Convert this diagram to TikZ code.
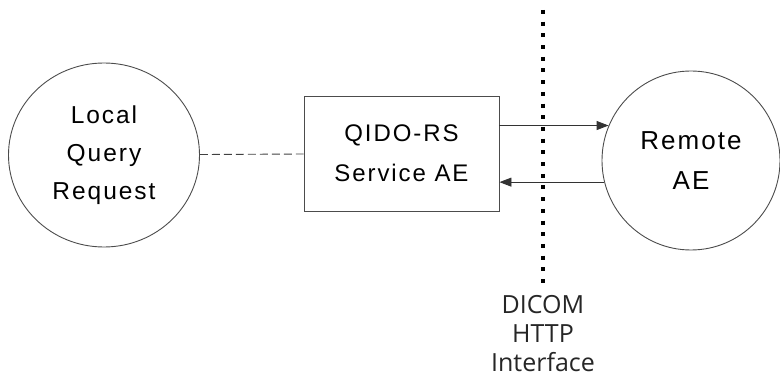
\documentclass[tikz,border=0pt]{standalone}
\usepackage{fontspec}
\newfontfamily\labelfont{Liberation Sans}[LetterSpace=8]
\newfontfamily\ifacefont{Open Sans}
\usetikzlibrary{arrows.meta,shapes.geometric}
\begin{document}
\begin{tikzpicture}[x=1pt,y=-1pt,
  ae/.style={draw=black!70, line width=0.9pt, ellipse, inner sep=0pt, align=center,
    font=\labelfont\fontsize{24.5}{38}\selectfont},
  svc/.style={draw=black!70, line width=0.9pt, rectangle, inner sep=0pt, align=center,
    minimum width=195pt, minimum height=115pt, font=\labelfont\fontsize{24}{40}\selectfont},
  link/.style={draw=black!75, line width=0.9pt, dash pattern=on 8pt off 4pt},
  msg/.style={draw=black!80, line width=0.9pt, -{Triangle[length=12pt,width=9pt]}},
  boundary/.style={draw=black, line width=4pt, dash pattern=on 4pt off 7.7pt},
  iface/.style={align=center, inner sep=0pt, text=black!85,
    font=\ifacefont\fontsize{25}{29}\selectfont}
]
\useasboundingbox (0,0) rectangle (780,377);
\node[ae, minimum width=191pt, minimum height=184pt] (local) at (104,155) {Local\\Query\\Request};
\node[svc] (box) at (401.5,153.5) {QIDO-RS\\Service AE};
\node[ae, minimum width=178pt, minimum height=179pt, font=\labelfont\fontsize{26}{40}\selectfont] (remote) at (691,160.5) {Remote\\AE};
\node[iface] (label) at (543,334) {DICOM\\HTTP\\Interface};
\coordinate (dtop) at (543,10);
\coordinate (dbot) at (543,286);
\draw[boundary] (dtop) -- (dbot);
\draw[link] (local) -- (box);
\draw[msg] (box.east |- remote.157) -- (remote.157);
\draw[msg] (remote.194.6) -- (box.east |- remote.194.6);
\end{tikzpicture}
\end{document}
